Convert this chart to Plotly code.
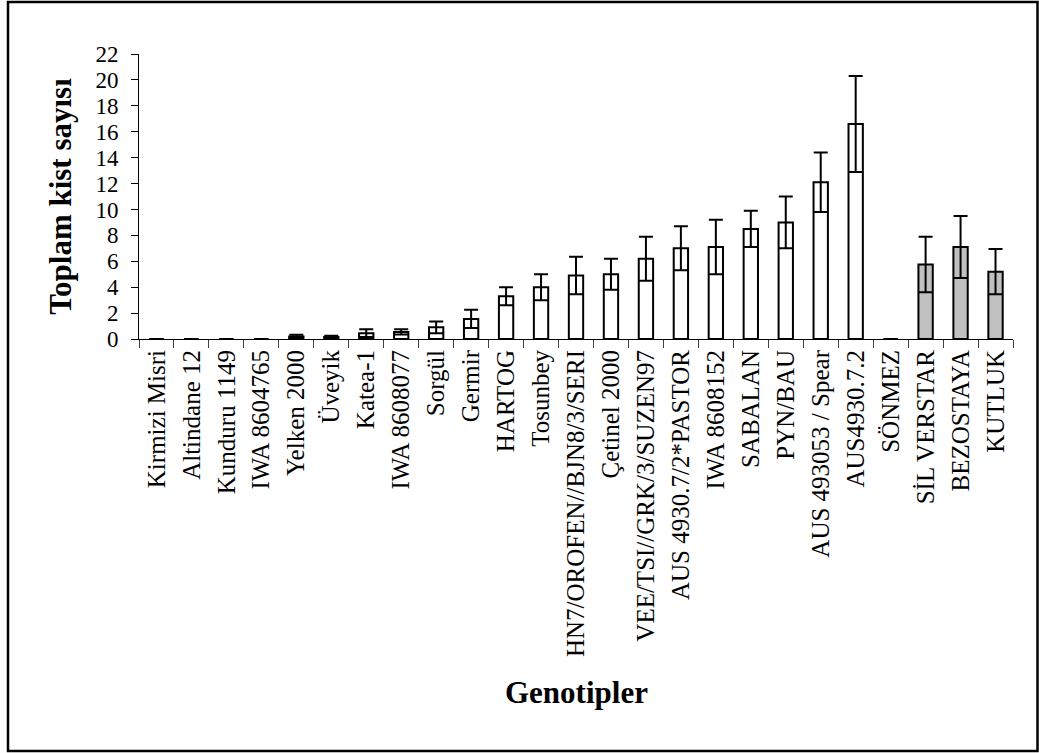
import plotly.graph_objects as go

# Genotypes and mean total cyst counts with their error
genotypes = [
    "Kirmizi Misri", "Altindane 12", "Kunduru 1149", "IWA 8604765", "Yelken 2000",
    "Üveyik", "Katea-1", "IWA 8608077", "Sorgül", "Germir", "HARTOG", "Tosunbey",
    "HN7/OROFEN//BJN8/3/SERI", "Çetinel 2000", "VEE/TSI//GRK/3/SUZEN97",
    "AUS 4930.7/2*PASTOR", "IWA 8608152", "SABALAN", "PYN/BAU", "AUS 493053 / Spear",
    "AUS4930.7.2", "SÖNMEZ", "SİL VERSTAR", "BEZOSTAYA", "KUTLUK",
]
mean_cysts = [0, 0, 0, 0, 0.2, 0.15, 0.45, 0.55, 0.9, 1.55, 3.3, 4.0, 4.9, 5.0, 6.2,
              7.0, 7.1, 8.5, 9.0, 12.1, 16.6, 0, 5.75, 7.1, 5.2]
error_cysts = [0, 0, 0, 0, 0.13, 0.1, 0.3, 0.2, 0.45, 0.7, 0.7, 1.0, 1.45, 1.2, 1.7,
               1.7, 2.1, 1.4, 2.0, 2.3, 3.7, 0, 2.15, 2.4, 1.75]
standards = ["SİL VERSTAR", "BEZOSTAYA", "KUTLUK"]
y_ticks = list(range(0, 23, 2))

fills = ["#c0c0c0" if g in standards else "white" for g in genotypes]

serif = "Liberation Serif, Times New Roman, serif"

fig = go.Figure()
fig.add_trace(go.Bar(
    x=genotypes,
    y=mean_cysts,
    width=0.41,
    marker=dict(color=fills, line=dict(color="black", width=2)),
    error_y=dict(type="data", array=error_cysts, visible=True,
                 color="black", thickness=2, width=7),
    showlegend=False,
))

W, H = 1039, 753
L, R, T, B = 139, 26, 54, 414
pw, ph = W - L - R, H - T - B


def px_x(p):
    return (p - L) / pw


def px_y(p):
    return (H - B - p) / ph


fig.update_layout(
    width=W, height=H,
    margin=dict(l=L, r=R, t=T, b=B, pad=0),
    plot_bgcolor="white", paper_bgcolor="white",
    font=dict(family=serif, color="black"),
    xaxis=dict(
        type="category",
        showline=True, linecolor="black", linewidth=1,
        ticks="outside", tickson="boundaries", ticklen=8, tickcolor="#444", tickwidth=1,
        tickangle=-90, tickfont=dict(size=25, family=serif, color="black"),
        showgrid=False, automargin=False,
    ),
    yaxis=dict(
        range=[0, 22], tickvals=y_ticks,
        showline=True, linecolor="black", linewidth=1,
        ticks="outside", ticklen=7, tickcolor="black", tickwidth=1,
        ticklabelstandoff=8,
        tickfont=dict(size=23, family=serif, color="black"),
        showgrid=False, zeroline=False, automargin=False,
        title=dict(text="<b>Toplam kist sayısı</b>", font=dict(size=31, family=serif),
                   standoff=14),
    ),
    shapes=[dict(type="rect", xref="paper", yref="paper",
                 x0=px_x(8), x1=px_x(1037.5), y0=px_y(751), y1=px_y(2),
                 line=dict(color="black", width=2.5), fillcolor="rgba(0,0,0,0)")],
    annotations=[dict(text="<b>Genotipler</b>", xref="paper", yref="paper",
                      x=0.5, y=px_y(692), xanchor="center", yanchor="middle",
                      showarrow=False, font=dict(size=31, family=serif))],
)

fig.write_html("out.html")
